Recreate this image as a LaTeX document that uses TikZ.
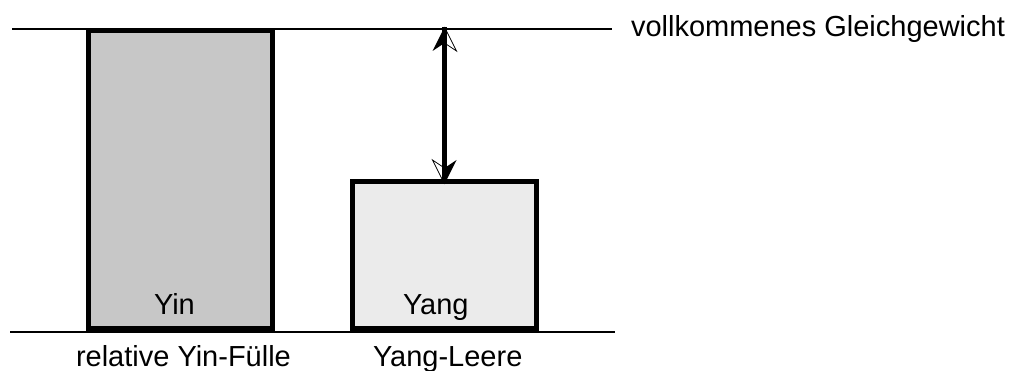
\documentclass[tikz,border=0pt]{standalone}
\usepackage{fontspec}
\setmainfont{Liberation Sans}
\begin{document}
\begin{tikzpicture}[x=1pt,y=-1pt,
  rule/.style={line width=2.5pt},
  bar/.style={draw=black, line width=5pt, inner sep=0pt, outer sep=0pt,
              minimum width=184pt},
  txt/.style={inner sep=0pt, outer sep=0pt, anchor=base west,
              font=\fontsize{29}{35}\selectfont},
  shaft/.style={line width=4.5pt},
  halfhead/.pic={
    \fill (0,0) -- (-12,24) -- (0,16) -- cycle;
    \draw[line width=0.8pt, line join=miter] (0,0) -- (12,24) -- (0,16);
  }]
\useasboundingbox (0,0) rectangle (1012,371);

% reference lines
\coordinate (topL) at (12,29);
\coordinate (topR) at (612,29);
\coordinate (botL) at (10,332);
\coordinate (botR) at (615,332);
\draw[rule] (topL) -- (topR);
\draw[rule] (botL) -- (botR);

% the two bars
\node[bar, fill=black!22, minimum height=298pt] (yin) at (180.5,179.5) {};
\node[bar, fill=black!8, minimum height=147pt] (yang) at (444.5,255) {};

% gap between the Yang bar and the balance line
\coordinate (gapTop) at (yang.north |- topL);
\draw[shaft] ([yshift=-2pt]yang.north) -- ([yshift=2pt]gapTop);
\pic at ([yshift=2pt]gapTop) {halfhead};
\pic[rotate=180] at ([yshift=-2.5pt]yang.north) {halfhead};

% labels
\node[txt] (eq) at (631,37) {vollkommenes Gleichgewicht};
\node[txt] (yinlbl) at (154,315) {Yin};
\node[txt] (yanglbl) at (403,315) {Yang};
\node[txt] (fill) at (76,366) {relative Yin-Fülle};
\node[txt] (void) at (373,366) {Yang-Leere};
\end{tikzpicture}
\end{document}
